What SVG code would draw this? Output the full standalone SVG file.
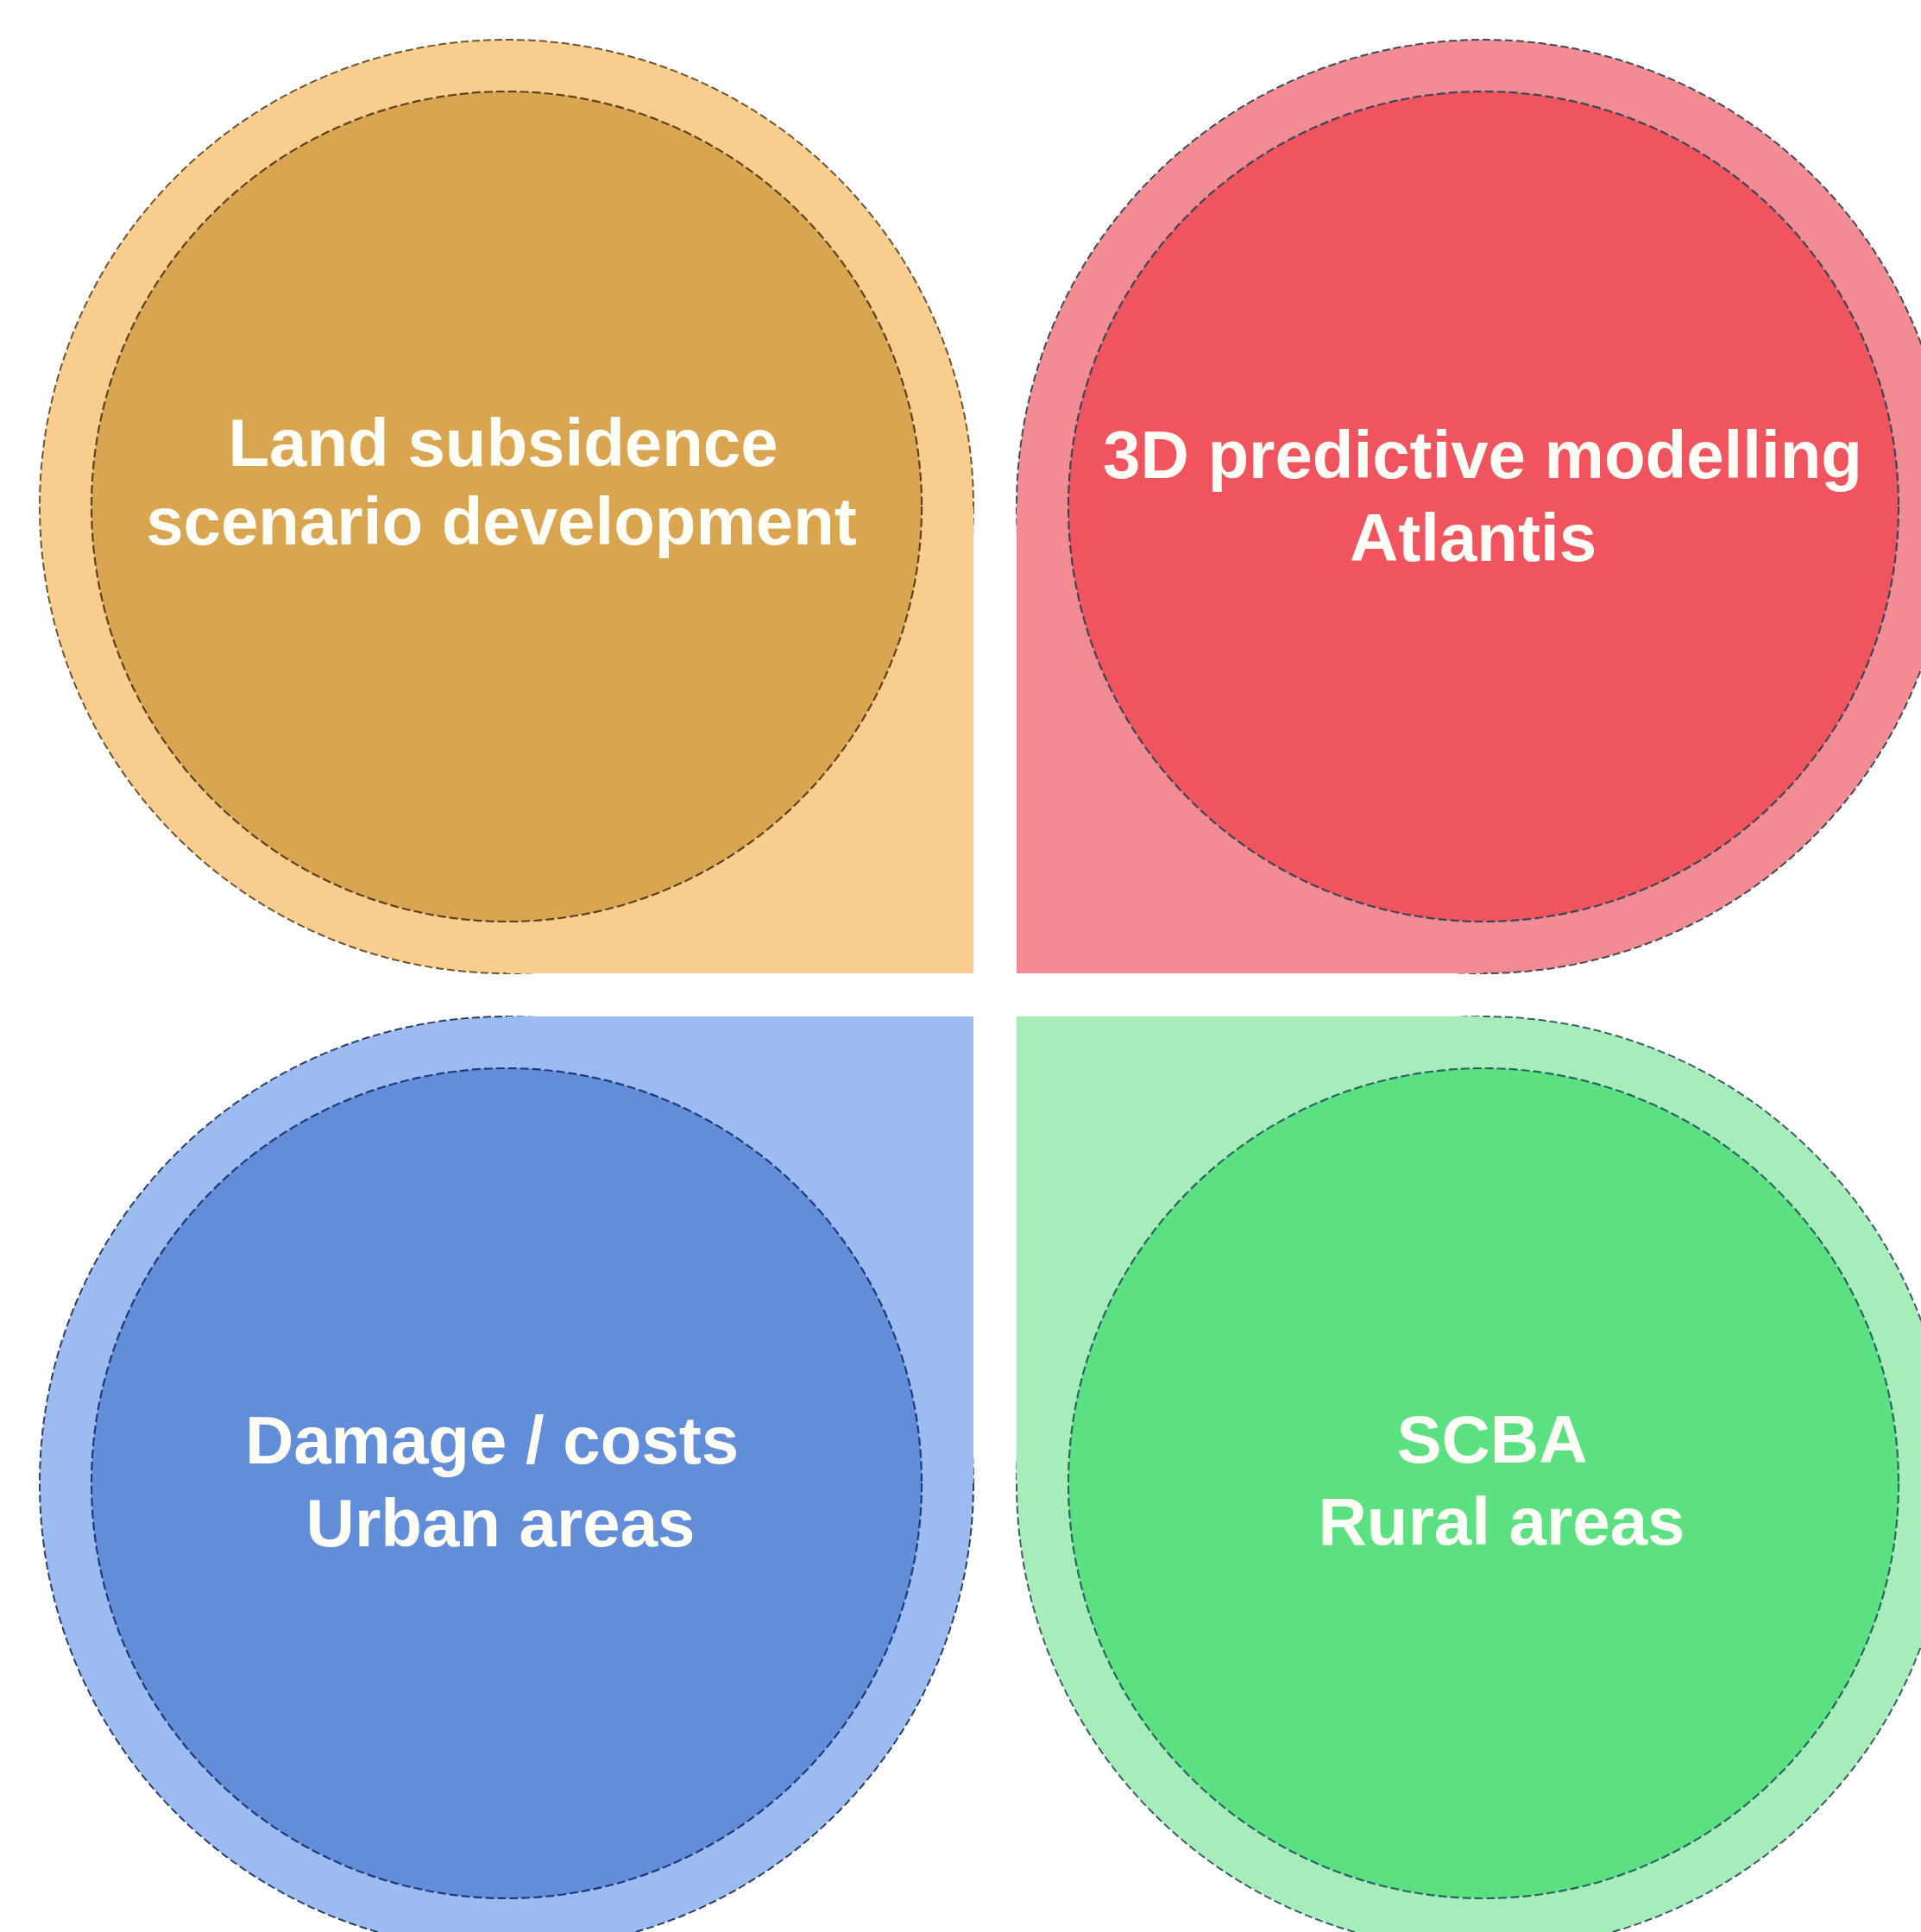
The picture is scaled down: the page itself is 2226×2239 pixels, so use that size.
<svg xmlns="http://www.w3.org/2000/svg" width="2226" height="2239" viewBox="0 0 2226 2239">
  <style>
    .ring { stroke-width: 2; stroke-dasharray: 9 4; }
    .core { stroke-width: 2.2; stroke-dasharray: 10 4; }
    .label { font-family: "Liberation Sans", Arial, sans-serif; font-weight: bold; font-size: 78px; fill: #fffef6; text-anchor: middle; }
    .orange .ring, .orange .corner { fill: #f9cd8e; }
    .orange .ring { stroke: #6e5632; }
    .orange .core { fill: #d9a551; stroke: #5c4220; }
    .red .ring, .red .corner { fill: #f38b92; }
    .red .ring { stroke: #3f4b5a; }
    .red .core { fill: #f0545f; stroke: #3a4656; }
    .blue .ring, .blue .corner { fill: #9bbbf1; }
    .blue .ring { stroke: #2d3f66; }
    .blue .core { fill: #628dd9; stroke: #1d3a7a; }
    .green .ring, .green .corner { fill: #a6edb9; }
    .green .ring { stroke: #3c5f6a; }
    .green .core { fill: #5be182; stroke: #2a6464; }
  </style>
  <rect width="2226" height="2239" fill="#ffffff"/>

  <!-- top left: scenario development -->
  <g id="land-subsidence" class="orange">
    <circle class="ring" cx="587" cy="587" r="541"/>
    <rect class="corner" x="587" y="587" width="541" height="541"/>
    <circle class="core" cx="587" cy="587" r="481"/>
    <text class="label" x="583" y="540">Land subsidence</text>
    <text class="label" x="581" y="631">scenario development</text>
  </g>

  <!-- top right: predictive modelling -->
  <g id="predictive-modelling" class="red">
    <circle class="ring" cx="1719" cy="587" r="541"/>
    <rect class="corner" x="1178" y="587" width="541" height="541"/>
    <circle class="core" cx="1719" cy="587" r="481"/>
    <text class="label" x="1718" y="554">3D predictive modelling</text>
    <text class="label" x="1707" y="650">Atlantis</text>
  </g>

  <!-- bottom left: damage and costs -->
  <g id="damage-costs" class="blue">
    <circle class="ring" cx="587" cy="1719" r="541"/>
    <rect class="corner" x="587" y="1178" width="541" height="541"/>
    <circle class="core" cx="587" cy="1719" r="481"/>
    <text class="label" x="570" y="1696">Damage / costs</text>
    <text class="label" x="580" y="1792">Urban areas</text>
  </g>

  <!-- bottom right: cost-benefit analysis -->
  <g id="scba" class="green">
    <circle class="ring" cx="1719" cy="1719" r="541"/>
    <rect class="corner" x="1178" y="1178" width="541" height="541"/>
    <circle class="core" cx="1719" cy="1719" r="481"/>
    <text class="label" x="1729" y="1695">SCBA</text>
    <text class="label" x="1740" y="1790">Rural areas</text>
  </g>
</svg>
